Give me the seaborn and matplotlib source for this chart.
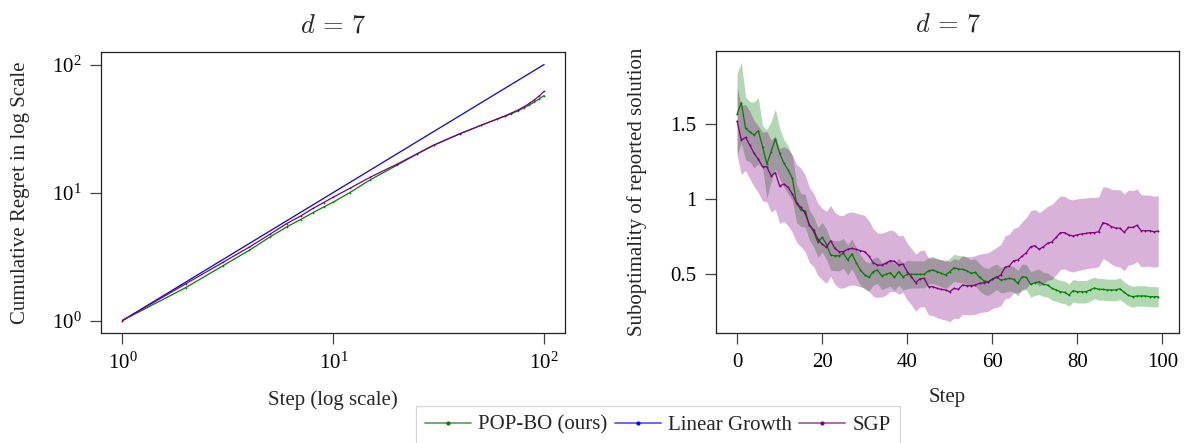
import numpy as np
import pandas as pd
import matplotlib
matplotlib.use("Agg")
import matplotlib.pyplot as plt
from matplotlib.lines import Line2D
from matplotlib.ticker import FixedLocator, NullLocator, LogFormatterSciNotation
import seaborn as sns

# ---------------- data ----------------
# Left panel: cumulative regret (log-log)
regret_steps = [1, 2, 3, 4, 5, 6, 7, 8, 9, 10, 12, 15, 20, 25, 30, 40, 50,
                60, 65, 70, 75, 80, 85, 90, 95, 100]
regret_pop = [1.0, 1.81, 2.68, 3.54, 4.49, 5.37, 6.15, 6.95, 7.70, 8.42, 10.0, 12.6, 16.3,
              20.0, 23.4, 28.8, 33.4, 37.5, 39.3, 41.3, 43.4, 45.8, 48.3, 51.0, 54.0, 57.2]
regret_sgp = [1.0, 1.94, 2.85, 3.75, 4.71, 5.71, 6.55, 7.50, 8.35, 9.20, 10.8, 13.2, 16.6,
              20.1, 23.5, 28.9, 33.4, 37.6, 39.6, 41.8, 44.0, 46.6, 49.6, 53.0, 57.0, 61.8]
regret_linear = [1, 2, 3, 4, 5, 6, 7, 8, 9, 10, 12, 15, 20, 25, 30, 40, 50,
                 60, 65, 70, 75, 80, 85, 90, 95, 100]

# Right panel: suboptimality of reported solution (steps 0..99)
subopt_steps = list(range(100))
pop_mean = [1.567, 1.644, 1.473, 1.451, 1.429, 1.458, 1.350, 1.236, 1.318, 1.402,
            1.307, 1.240, 1.196, 1.140, 0.973, 0.929, 0.924, 0.829, 0.784, 0.713,
            0.747, 0.702, 0.629, 0.624, 0.624, 0.640, 0.596, 0.636, 0.578, 0.529,
            0.496, 0.480, 0.518, 0.529, 0.489, 0.500, 0.511, 0.480, 0.518, 0.484,
            0.500, 0.500, 0.500, 0.500, 0.500, 0.524, 0.529, 0.518, 0.507, 0.496,
            0.518, 0.544, 0.536, 0.533, 0.524, 0.507, 0.513, 0.480, 0.458, 0.449,
            0.467, 0.484, 0.462, 0.467, 0.473, 0.467, 0.440, 0.484, 0.480, 0.433,
            0.444, 0.451, 0.433, 0.429, 0.407, 0.396, 0.384, 0.380, 0.362, 0.391,
            0.384, 0.384, 0.384, 0.396, 0.409, 0.400, 0.400, 0.396, 0.396, 0.396,
            0.404, 0.380, 0.360, 0.351, 0.356, 0.356, 0.356, 0.351, 0.351, 0.351]
pop_std = [0.27, 0.27, 0.21, 0.20, 0.22, 0.22, 0.14, 0.23, 0.20, 0.20,
           0.17, 0.16, 0.16, 0.15, 0.13, 0.11, 0.11, 0.10, 0.10, 0.10,
           0.10, 0.10, 0.10, 0.10, 0.10, 0.10, 0.10, 0.10, 0.10, 0.10,
           0.095, 0.095, 0.09, 0.09, 0.09, 0.09, 0.09, 0.09, 0.09, 0.09,
           0.095, 0.09, 0.09, 0.09, 0.09, 0.09, 0.09, 0.09, 0.09, 0.09,
           0.09, 0.09, 0.09, 0.09, 0.09, 0.09, 0.09, 0.09, 0.09, 0.09,
           0.09, 0.085, 0.085, 0.085, 0.085, 0.085, 0.085, 0.085, 0.085, 0.085,
           0.085, 0.085, 0.08, 0.08, 0.08, 0.075, 0.075, 0.075, 0.075, 0.075,
           0.075, 0.075, 0.075, 0.075, 0.072, 0.072, 0.072, 0.072, 0.072, 0.072,
           0.072, 0.07, 0.07, 0.07, 0.068, 0.068, 0.068, 0.067, 0.067, 0.067]
sgp_mean = [1.522, 1.396, 1.413, 1.362, 1.307, 1.267, 1.218, 1.218, 1.156, 1.178,
            1.089, 1.102, 1.080, 1.036, 0.973, 0.947, 0.907, 0.829, 0.796, 0.733,
            0.702, 0.680, 0.724, 0.673, 0.651, 0.651, 0.667, 0.673, 0.667, 0.658,
            0.651, 0.622, 0.578, 0.562, 0.562, 0.573, 0.591, 0.587, 0.562, 0.569,
            0.518, 0.484, 0.444, 0.471, 0.473, 0.418, 0.418, 0.407, 0.400, 0.396,
            0.384, 0.407, 0.400, 0.429, 0.424, 0.424, 0.429, 0.440, 0.444, 0.449,
            0.467, 0.480, 0.496, 0.547, 0.556, 0.591, 0.596, 0.622, 0.644, 0.684,
            0.691, 0.667, 0.684, 0.707, 0.716, 0.747, 0.778, 0.778, 0.762, 0.756,
            0.764, 0.769, 0.773, 0.778, 0.778, 0.784, 0.844, 0.836, 0.818, 0.809,
            0.807, 0.780, 0.813, 0.813, 0.827, 0.791, 0.791, 0.791, 0.784, 0.789]
sgp_std = [0.227, 0.23, 0.22, 0.225, 0.22, 0.222, 0.23, 0.235, 0.24, 0.245,
           0.249, 0.25, 0.255, 0.258, 0.26, 0.262, 0.255, 0.25, 0.245, 0.24,
           0.238, 0.24, 0.235, 0.24, 0.242, 0.242, 0.245, 0.243, 0.242, 0.242,
           0.242, 0.235, 0.225, 0.215, 0.212, 0.211, 0.205, 0.2, 0.195, 0.19,
           0.189, 0.188, 0.19, 0.188, 0.189, 0.189, 0.192, 0.195, 0.198, 0.2,
           0.2, 0.198, 0.196, 0.195, 0.194, 0.194, 0.195, 0.195, 0.195, 0.195,
           0.195, 0.2, 0.205, 0.21, 0.213, 0.215, 0.22, 0.228, 0.235, 0.24,
           0.242, 0.245, 0.247, 0.248, 0.249, 0.249, 0.245, 0.242, 0.24, 0.24,
           0.24, 0.238, 0.236, 0.235, 0.234, 0.233, 0.24, 0.245, 0.25, 0.255,
           0.258, 0.255, 0.25, 0.245, 0.242, 0.24, 0.238, 0.237, 0.236, 0.236]

legend_labels = ["POP-BO (ours)", "Linear Growth", "SGP"]

# ---------------- style ----------------
sns.set_style("ticks")
plt.rcParams["font.family"] = ["Liberation Serif", "DejaVu Serif"]
plt.rcParams["mathtext.fontset"] = "cm"
plt.rcParams["axes.linewidth"] = 0.9
plt.rcParams["axes.edgecolor"] = "#222222"
plt.rcParams["xtick.color"] = "#444444"
plt.rcParams["ytick.color"] = "#444444"
plt.rcParams["xtick.labelcolor"] = "black"
plt.rcParams["ytick.labelcolor"] = "black"

C_GREEN = "#008000"
C_BLUE = "#0000ff"
C_PURPLE = "#800080"
FS = 15
TITLE = r"$d\,=\,7$"

fig = plt.figure(figsize=(11.85, 4.43), dpi=100)
ax1 = fig.add_axes([101.4 / 1185, 1 - 333.3 / 443, 463.8 / 1185, 281.6 / 443])
ax2 = fig.add_axes([716 / 1185, 1 - 333.3 / 443, 463.3 / 1185, 282.3 / 443])

# ---------------- left panel ----------------
df_left = pd.DataFrame({"step": regret_steps, "pop": regret_pop,
                        "sgp": regret_sgp, "lin": regret_linear})
sns.lineplot(data=df_left, x="step", y="lin", ax=ax1, color=C_BLUE, lw=0.9)
sns.lineplot(data=df_left, x="step", y="pop", ax=ax1, color=C_GREEN, lw=0.9,
             marker="o", markersize=1.2, markeredgewidth=0)
sns.lineplot(data=df_left, x="step", y="sgp", ax=ax1, color=C_PURPLE, lw=0.9,
             marker="o", markersize=1.2, markeredgewidth=0)
ax1.set_xscale("log")
ax1.set_yscale("log")
ax1.set_xlim(10 ** -0.1, 10 ** 2.1)
ax1.set_ylim(10 ** -0.1, 10 ** 2.1)
for axis in (ax1.xaxis, ax1.yaxis):
    axis.set_major_locator(FixedLocator([1, 10, 100]))
    axis.set_minor_locator(NullLocator())
    axis.set_major_formatter(LogFormatterSciNotation())
ax1.set_xlabel("Step (log scale)", fontsize=FS, labelpad=12)
ax1.set_ylabel("Cumulative Regret in log Scale", fontsize=FS, labelpad=16)
ax1.set_title(TITLE, fontsize=19, pad=14)

# ---------------- right panel ----------------
df_right = pd.DataFrame({"step": subopt_steps, "pop": pop_mean, "sgp": sgp_mean})
pm = np.array(pop_mean); ps = np.array(pop_std)
sm = np.array(sgp_mean); ss = np.array(sgp_std)
ax2.fill_between(subopt_steps, pm - ps, pm + ps, color=C_GREEN, alpha=0.3, lw=0)
ax2.fill_between(subopt_steps, sm - ss, sm + ss, color=C_PURPLE, alpha=0.3, lw=0)
sns.lineplot(data=df_right, x="step", y="pop", ax=ax2, color=C_GREEN, lw=0.9,
             marker="o", markersize=1.4, markeredgewidth=0)
sns.lineplot(data=df_right, x="step", y="sgp", ax=ax2, color=C_PURPLE, lw=0.9,
             marker="o", markersize=1.4, markeredgewidth=0)
ax2.set_xlim(-4.95, 103.95)
ax2.set_ylim(0.107, 1.989)
ax2.set_xticks([0, 20, 40, 60, 80, 100])
ax2.set_yticks([0.5, 1.0, 1.5])
ax2.set_yticklabels(["0.5", "1", "1.5"])
ax2.set_xlabel("Step", fontsize=FS, labelpad=12)
ax2.set_ylabel("Suboptimality of reported solution", fontsize=FS, labelpad=17)
ax2.set_title(TITLE, fontsize=19, pad=14)

for ax in (ax1, ax2):
    ax.tick_params(axis="both", which="major", direction="out", length=8, width=0.9,
                   labelsize=FS, pad=6)
    for sp in ax.spines.values():
        sp.set_visible(True)

# ---------------- legend ----------------
handles = [
    Line2D([], [], color=(0, 0.5, 0, 0.6), lw=1.4, marker="o", markersize=2,
           markerfacecolor=C_GREEN, markeredgecolor=C_GREEN),
    Line2D([], [], color=(0, 0, 1, 0.6), lw=1.4, marker="o", markersize=2,
           markerfacecolor=C_BLUE, markeredgecolor=C_BLUE),
    Line2D([], [], color=(0.5, 0, 0.5, 0.6), lw=1.4, marker="o", markersize=2,
           markerfacecolor=C_PURPLE, markeredgecolor=C_PURPLE),
]
leg = fig.legend(handles, legend_labels, loc="upper center",
                 bbox_to_anchor=(658 / 1185, 1 - 406 / 443), ncol=3, frameon=True,
                 fancybox=False, edgecolor="#cccccc", fontsize=15, handlelength=2.2,
                 handletextpad=0.35, columnspacing=0.35, borderpad=0.45,
                 borderaxespad=0, numpoints=1)
leg.get_frame().set_linewidth(0.9)

fig.savefig("out.png", dpi=100)
